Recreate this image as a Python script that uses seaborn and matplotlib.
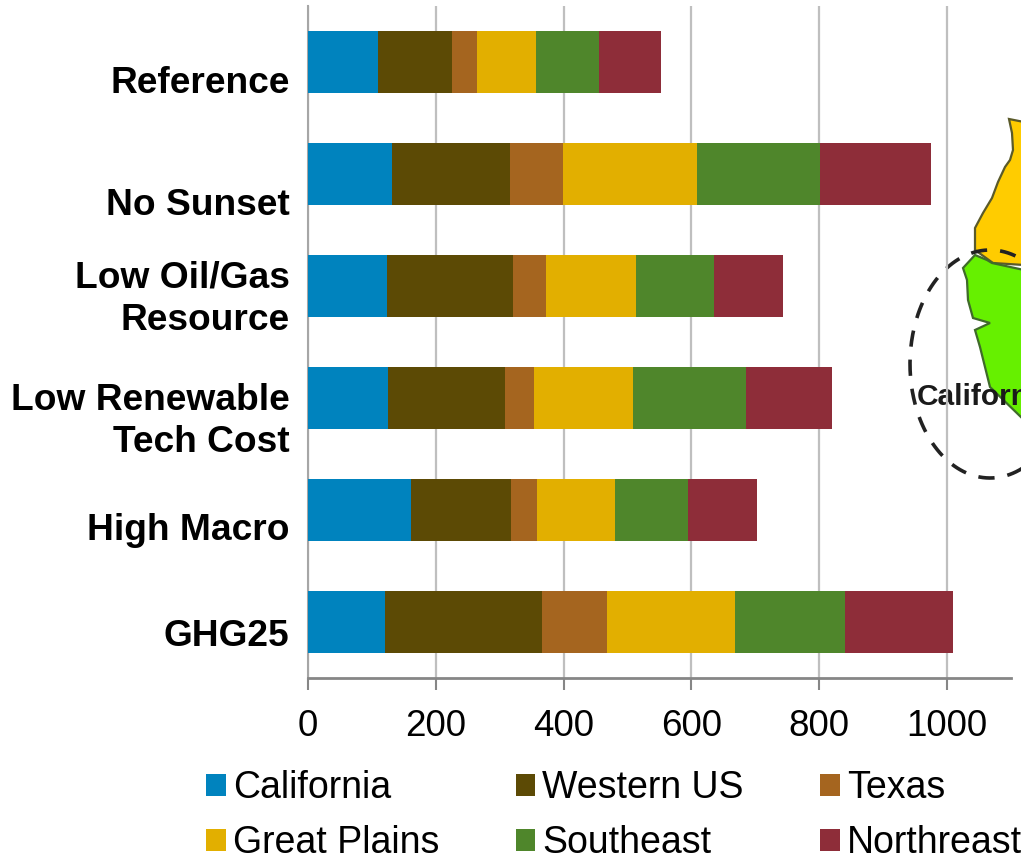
import numpy as np
import pandas as pd
import matplotlib.pyplot as plt
import seaborn as sns

# Values
scenarios = ["Reference", "No Sunset", "Low Oil/Gas", "Low Renewable", "High Macro", "GHG25"]
regions = ["California", "Western US", "Texas", "Great Plains", "Southeast", "Northreast"]
california = [110, 131, 124, 125, 161, 120]
western_us = [116, 185, 197, 183, 156, 246]
texas = [38, 83, 52, 45, 41, 102]
great_plains = [92, 210, 141, 155, 122, 200]
southeast = [99, 192, 122, 177, 114, 172]
northeast = [97, 174, 108, 135, 108, 169]
colors = ["#0083BE", "#5C4A05", "#A5651F", "#E2AF00", "#4F862B", "#8E2D39"]
ticks = [0, 200, 400, 600, 800, 1000]

# Category labels sit at uneven heights in the original
label_text = ["Reference", "No Sunset", "Low Oil/Gas\nResource", "Low Renewable\nTech Cost", "High Macro", "GHG25"]
label_y = [81, 203, 297, 419, 528, 634]

sns.set_theme(style="white")
plt.rcParams["font.family"] = ["Liberation Sans", "DejaVu Sans"]

W, H = 1021, 858
fig = plt.figure(figsize=(W / 100, H / 100), dpi=100)

# Background layer in pixel coordinates for the map fragment
bg = fig.add_axes([0, 0, 1, 1], zorder=0)
bg.set_xlim(0, W)
bg.set_ylim(H, 0)
bg.axis("off")
orange_x = [1009, 1012, 1013, 1010, 1005, 998, 992, 983, 975, 975, 993, 1024, 1024]
orange_y = [119, 133, 150, 160, 167, 182, 198, 213, 228, 250, 263, 265, 122]
bg.fill(orange_x, orange_y, facecolor="#FFCC00", edgecolor="#5A5A2A", lw=1.6)
green_x = [963, 975, 987, 992, 1024, 1024, 990, 980, 975, 990, 973, 968, 967]
green_y = [268, 255, 260, 263, 270, 420, 387, 347, 330, 323, 318, 300, 280]
bg.fill(green_x, green_y, facecolor="#66F000", edgecolor="#3F6B2A", lw=1.6)
t = np.linspace(0, 2 * np.pi, 300)
bg.plot(990 + 80 * np.cos(t), 364 + 114 * np.sin(t), color="#222222", lw=2.6, ls=(0, (4.5, 3.6)))
bg.text(917, 397, "California", fontsize=21.5, fontweight="bold", color="#1a1a1a", va="center", ha="left")

# Main chart
ax = fig.add_axes([308 / W, 1 - 678 / H, (1011 - 308) / W, 672 / H], zorder=1)
ax.patch.set_alpha(0)

series = [california, western_us, texas, great_plains, southeast, northeast]
left = np.zeros(len(scenarios))
for region, vals, col in zip(regions, series, colors):
    df = pd.DataFrame({"scenario": scenarios, "value": vals})
    sns.barplot(data=df, y="scenario", x="value", order=scenarios, color=col, saturation=1,
                width=0.546, left=left, label=region, ax=ax, zorder=3, linewidth=0, edgecolor="none")
    left = left + np.array(vals)

ax.set_xlim(0, 1100)
ax.set_ylim(5.5, -0.5)
ax.set_xticks(ticks)
ax.set_xlabel("")
ax.set_ylabel("")
ax.set_yticks([])
ax.grid(axis="x", color="#BFBFBF", lw=1.6, zorder=0)
ax.set_axisbelow(True)
ax.tick_params(axis="x", labelsize=26.5, length=8.5, width=1.5, color="#868686", pad=14,
               labelcolor="black", bottom=True)
for s in ["top", "right"]:
    ax.spines[s].set_visible(False)
ax.spines["left"].set_color("#A6A6A6")
ax.spines["left"].set_linewidth(1.5)
ax.spines["bottom"].set_color("#868686")
ax.spines["bottom"].set_linewidth(2)

for txt, y in zip(label_text, label_y):
    bg.text(289.5, y + 2.5, txt, ha="right", va="center", fontsize=26.7, fontweight="bold",
            color="black", multialignment="right", linespacing=1.29)

# Legend fills by column, so reorder to read across the rows
handles, labels = ax.get_legend_handles_labels()
order = [0, 3, 1, 4, 2, 5]
ax.legend([handles[i] for i in order], [labels[i] for i in order], ncol=3, loc="lower left",
          bbox_to_anchor=(206 / W, 1 - 861 / H), bbox_transform=fig.transFigure, frameon=False,
          fontsize=27, labelcolor="black", handlelength=0.52, handleheight=0.52,
          handletextpad=0.2, columnspacing=2.03, labelspacing=0.5, borderpad=0, borderaxespad=0)

fig.savefig("out.png", dpi=100)
plt.close(fig)
